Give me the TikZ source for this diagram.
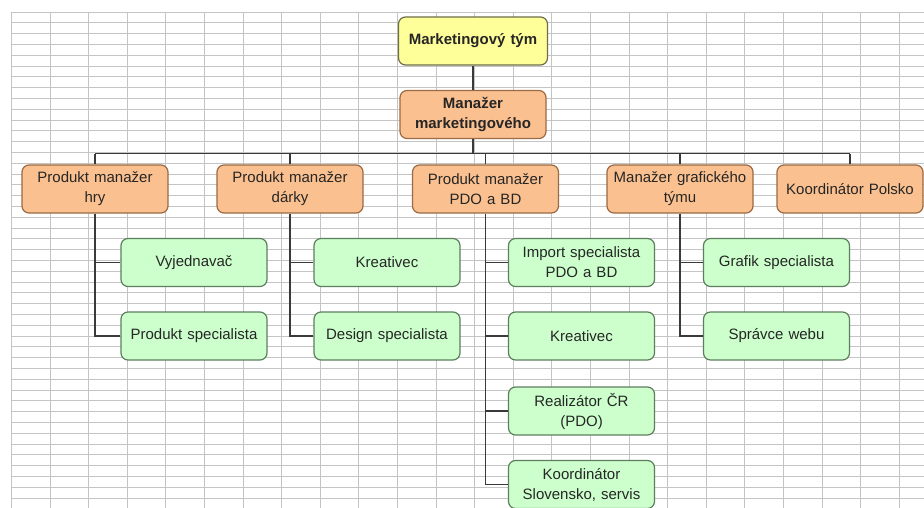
\documentclass[tikz,border=0pt]{standalone}
\usepackage{fontspec}
\setmainfont{Liberation Sans}
\definecolor{topfill}{HTML}{FFFF99}
\definecolor{topline}{HTML}{6E6E4A}
\definecolor{headfill}{HTML}{FAC08F}
\definecolor{headline}{HTML}{9A6B45}
\definecolor{stafffill}{HTML}{CCFFCC}
\definecolor{staffline}{HTML}{5E7F5E}
\definecolor{linkcol}{HTML}{3A3A3A}
\definecolor{gridcol}{HTML}{C4C4C4}
\begin{document}
\begin{tikzpicture}[x=1pt,y=-1pt,
  box/.style={draw, rounded corners=7pt, line width=1.2pt,
    minimum width=146pt, minimum height=48pt, text width=142pt,
    align=center, inner sep=0pt, text=black!85,
    font=\fontsize{15}{20}\selectfont},
  topbox/.style={box, fill=topfill, draw=topline, minimum width=149pt,
    font=\fontsize{15}{20}\selectfont\bfseries},
  headbox/.style={box, fill=headfill, draw=headline},
  bossbox/.style={headbox, font=\fontsize{15}{20}\selectfont\bfseries},
  staffbox/.style={box, fill=stafffill, draw=staffline},
  link/.style={draw=linkcol, line width=1.3pt},
  cell/.style={draw=gridcol, line width=0.9pt}]

% sheet background with cell grid
\useasboundingbox (0,0) rectangle (924,508);
\fill[white] (0,0) rectangle (924,508);
\foreach \k in {0,...,23}
  \draw[cell] ({11.4+38.6*\k},12) -- ({11.4+38.6*\k},508);
\foreach \k in {0,...,45}
  \draw[cell] (11.4,{12+10.8*\k}) -- (924,{12+10.8*\k});

% top of the hierarchy
\node[topbox]  (top) at (473,41)    {Marketingový tým};
\node[bossbox] (mgr) at (473,114.5) {Manažer\\marketingového};

% second level
\node[headbox] (o1) at (95,189)    {Produkt manažer\\hry};
\node[headbox] (o2) at (290,189)   {Produkt manažer\\dárky};
\node[headbox] (o3) at (485.5,189) {Produkt manažer\\PDO a BD};
\node[headbox] (o4) at (680,189)   {Manažer grafického\\týmu};
\node[headbox] (o5) at (850,189)   {Koordinátor Polsko};

% staff
\node[staffbox] (g1a) at (194,262.5)   {Vyjednavač};
\node[staffbox] (g1b) at (194,336)     {Produkt specialista};
\node[staffbox] (g2a) at (387,262.5)   {Kreativec};
\node[staffbox] (g2b) at (387,336)     {Design specialista};
\node[staffbox] (g3a) at (581.5,262.5) {Import specialista\\PDO a BD};
\node[staffbox] (g3b) at (581.5,336)   {Kreativec};
\node[staffbox] (g3c) at (581.5,411)   {Realizátor ČR\\(PDO)};
\node[staffbox] (g3d) at (581.5,484.5) {Koordinátor\\Slovensko, servis};
\node[staffbox] (g4a) at (776.5,262.5) {Grafik specialista};
\node[staffbox] (g4b) at (776.5,336)   {Správce webu};

% connectors
\coordinate (busL) at (95,154);
\coordinate (busR) at (850,154);
\draw[link] (top.south) -- (mgr.north);
\draw[link] (mgr.south) -- (mgr.south |- busL);
\draw[link, line width=1pt] (busL) -- (busR);
\foreach \n in {o1,o2,o3,o4,o5}
  \draw[link] (\n.north |- busL) -- (\n.north);

\draw[link] (o1.south) |- (g1b.west);
\draw[link] (o1.south |- g1a.west) -- (g1a.west);
\draw[link] (o2.south) |- (g2b.west);
\draw[link] (o2.south |- g2a.west) -- (g2a.west);
\draw[link] (o3.south) |- (g3d.west);
\draw[link] (o3.south |- g3a.west) -- (g3a.west);
\draw[link] (o3.south |- g3b.west) -- (g3b.west);
\draw[link] (o3.south |- g3c.west) -- (g3c.west);
\draw[link] (o4.south) |- (g4b.west);
\draw[link] (o4.south |- g4a.west) -- (g4a.west);
\end{tikzpicture}
\end{document}
